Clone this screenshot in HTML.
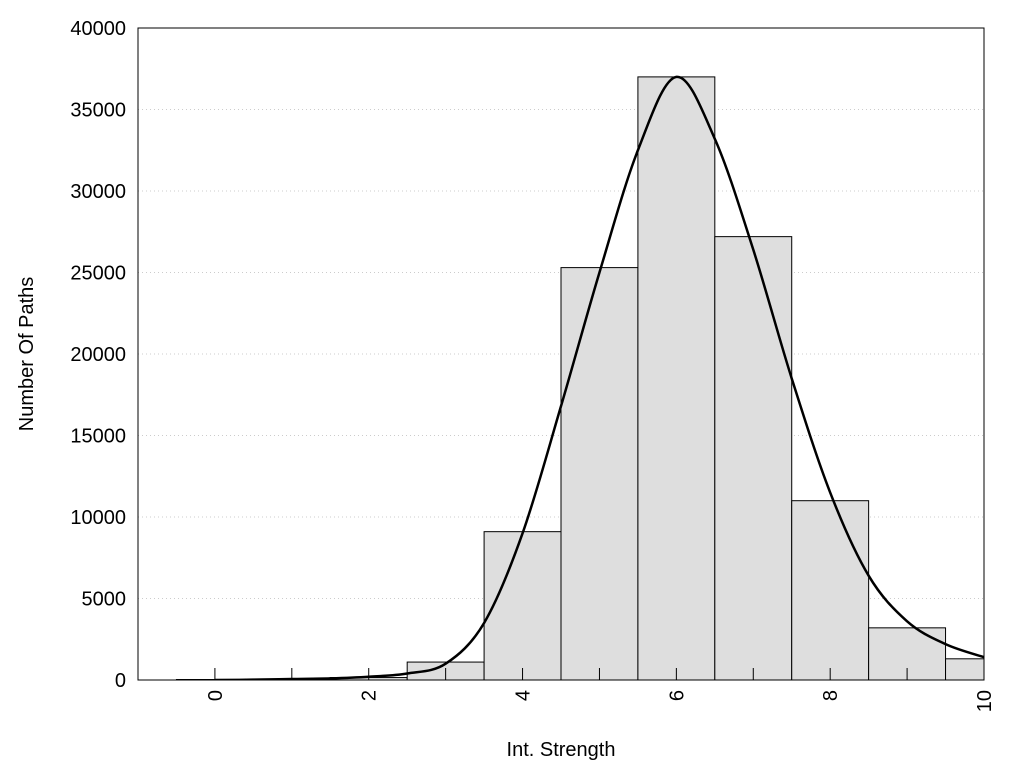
<!DOCTYPE html>
<html><head><meta charset="utf-8"><style>
body{margin:0;background:#fff;}
text{font-family:"Liberation Sans",sans-serif;fill:#000;}
</style></head><body>
<svg id="chart" width="1024" height="768"></svg>
<script>
const categories=[0,1,2,3,4,5,6,7,8,9,10];
const counts=[30,60,150,1100,9100,25300,37000,27200,11000,3200,1300];
const curveX=[0,0.5,1,1.5,2,2.5,3,3.5,4,4.5,5,5.5,6,6.5,7,7.5,8,8.5,9,9.5,10];
const curveY=[0,20,60,100,200,400,1000,3500,9000,16800,25000,32500,37000,33200,26400,18500,11500,6400,3600,2200,1400];
const yTicks=[0,5000,10000,15000,20000,25000,30000,35000,40000];
const xTickLabels=[0,2,4,6,8,10];
const NS="http://www.w3.org/2000/svg";
const svg=document.getElementById('chart');
const L=138,R=984,T=28,B=680;
const xMin=-1,xMax=10,yMax=40000;
const sx=v=>L+(v-xMin)/(xMax-xMin)*(R-L);
const sy=v=>B-v/yMax*(B-T);
function mk(tag,attrs,parent){const e=document.createElementNS(NS,tag);for(const k in attrs)e.setAttribute(k,attrs[k]);(parent||svg).appendChild(e);return e;}
// grid
yTicks.forEach(t=>{if(t>0&&t<yMax){const g=mk('line',{x1:L,x2:R,y1:sy(t),y2:sy(t),stroke:'#ccc','stroke-width':1,'stroke-dasharray':'1,3'});

}});
// bars
const clip=mk('clipPath',{id:'pc'});mk('rect',{x:L,y:T,width:R-L,height:B-T},clip);
categories.forEach((c,i)=>{const x0=sx(c-0.5),x1=Math.min(sx(c+0.5),R);
const r=mk('rect',{x:x0,y:sy(counts[i]),width:x1-x0,height:B-sy(counts[i]),fill:'#dedede',stroke:'#000','stroke-width':1});

});
// x ticks
for(let v=0;v<=10;v++){const t=mk('line',{x1:sx(v),x2:sx(v),y1:B,y2:B-12,stroke:'#000'});

}
// curve (catmull-rom)
const pts=curveX.map((x,i)=>[sx(x),sy(curveY[i])]);
let d='M'+pts[0][0]+','+pts[0][1];
for(let i=0;i<pts.length-1;i++){const p0=pts[Math.max(i-1,0)],p1=pts[i],p2=pts[i+1],p3=pts[Math.min(i+2,pts.length-1)];
d+=' C'+(p1[0]+(p2[0]-p0[0])/6)+','+(p1[1]+(p2[1]-p0[1])/6)+' '+(p2[0]-(p3[0]-p1[0])/6)+','+(p2[1]-(p3[1]-p1[1])/6)+' '+p2[0]+','+p2[1];}
const cv=mk('path',{d:d,fill:'none',stroke:'#000','stroke-width':2.5,'clip-path':'url(#pc)'});


// frame
const fr=mk('rect',{x:L,y:T,width:R-L,height:B-T,fill:'none',stroke:'#000','stroke-width':1});


// y labels
yTicks.forEach(t=>{const tx=mk('text',{x:126,y:sy(t)+7,'text-anchor':'end','font-size':20});tx.textContent=t;

});
// x labels rotated
xTickLabels.forEach(v=>{const x=sx(v)+7,y=690;const tx=mk('text',{x:x,y:y,'text-anchor':'end','font-size':20,transform:'rotate(-90 '+x+' '+y+')'});tx.textContent=v;

});
const xt=mk('text',{x:561,y:756,'text-anchor':'middle','font-size':20});xt.textContent='Int. Strength';


const yt=mk('text',{x:33,y:354,'text-anchor':'middle','font-size':20,transform:'rotate(-90 33 354)'});yt.textContent='Number Of Paths';


</script>
</body></html>
